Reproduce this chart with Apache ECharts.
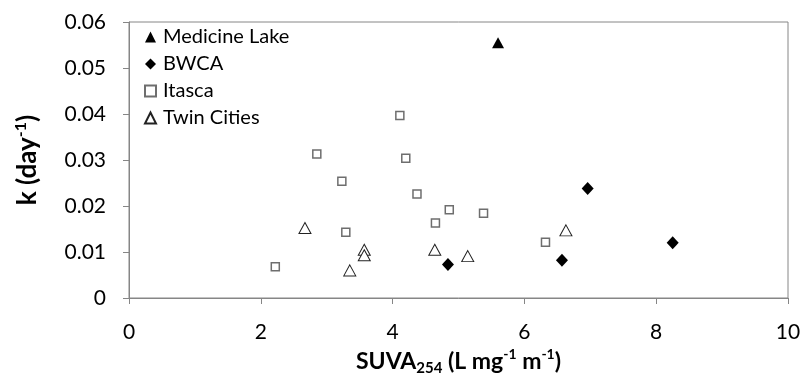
<!DOCTYPE html>
<html>
<head>
<meta charset="utf-8">
<script src="https://cdn.jsdelivr.net/npm/echarts@6/dist/echarts.min.js"></script>
<style>
  html, body { margin: 0; padding: 0; background: #fff; }
  #chart { width: 806px; height: 386px; }
</style>
</head>
<body>
<div id="chart"></div>
<script>
// SUVA254 (L mg-1 m-1) vs decay rate k (day-1), per site group
const medicineLake = [[5.60, 0.0555]];
const bwca = [[4.84, 0.0073], [6.57, 0.0082], [6.96, 0.0238], [8.25, 0.0120]];
const itasca = [
  [2.22, 0.0068], [2.85, 0.0313], [3.23, 0.0254], [3.29, 0.0143],
  [4.11, 0.0397], [4.20, 0.0304], [4.37, 0.0226], [4.65, 0.0163],
  [4.86, 0.0192], [5.38, 0.0184], [6.32, 0.0121]
];
const twinCities = [
  [2.67, 0.0152], [3.35, 0.0060], [3.57, 0.0105], [3.57, 0.0093],
  [4.64, 0.0105], [5.14, 0.0091], [6.63, 0.0147]
];
const xTicks = [0, 2, 4, 6, 8, 10];
const yTicks = [0, 0.01, 0.02, 0.03, 0.04, 0.05, 0.06];

const FONT = 'Lato';
const axisGray = '#868686';

const chart = echarts.init(document.getElementById('chart'), null, { renderer: 'canvas' });

chart.setOption({
  animation: false,
  backgroundColor: '#fff',
  textStyle: { fontFamily: FONT, color: '#000' },
  grid: {
    left: 129, right: 18, top: 22, bottom: 88,
    show: true, borderColor: axisGray, borderWidth: 1, backgroundColor: 'transparent'
  },
  legend: {
    orient: 'vertical',
    left: 139, top: 22,
    padding: 5,
    itemWidth: 11, itemHeight: 11, itemGap: 7,
    textStyle: { fontFamily: FONT, fontSize: 20, color: '#000', padding: [0, 0, 0, 2] },
    data: ['Medicine Lake', 'BWCA', 'Itasca', 'Twin Cities']
  },
  xAxis: {
    type: 'value',
    min: xTicks[0], max: xTicks[xTicks.length - 1], interval: 2,
    splitLine: { show: false },
    axisLine: { show: true, lineStyle: { color: axisGray, width: 1 } },
    axisTick: { show: true, length: 6, lineStyle: { color: axisGray } },
    axisLabel: { fontFamily: FONT, fontSize: 21, color: '#000', margin: 24 },
    name: '{b|SUVA}{bs|254}{b| (L mg}{bp|-1}{b| m}{bp|-1}{b|)}',
    nameLocation: 'middle',
    nameGap: 46,
    nameTextStyle: {
      rich: {
        b: { fontFamily: FONT, fontWeight: 'bold', fontSize: 23, color: '#000' },
        bs: { fontFamily: FONT, fontWeight: 'bold', fontSize: 15, color: '#000', padding: [13, 0, 0, 0] },
        bp: { fontFamily: FONT, fontWeight: 'bold', fontSize: 14, color: '#000', padding: [0, 0, 13, 0] }
      }
    }
  },
  yAxis: {
    type: 'value',
    min: yTicks[0], max: yTicks[yTicks.length - 1], interval: 0.01,
    splitLine: { show: false },
    axisLine: { show: true, lineStyle: { color: axisGray, width: 1 } },
    axisTick: { show: true, length: 6, lineStyle: { color: axisGray } },
    axisLabel: {
      fontFamily: FONT, fontSize: 21, color: '#000', margin: 23,
      formatter: v => (v === 0 ? '0' : v.toFixed(2))
    },
    name: '{b|k (day}{bp|-1}{b|)}',
    nameLocation: 'middle',
    nameRotate: 90,
    nameGap: 86,
    nameTextStyle: {
      rich: {
        b: { fontFamily: FONT, fontWeight: 'bold', fontSize: 26, color: '#000' },
        bp: { fontFamily: FONT, fontWeight: 'bold', fontSize: 16, color: '#000', padding: [0, 0, 14, 0] }
      }
    }
  },
  series: [
    {
      name: 'Medicine Lake', type: 'scatter', data: medicineLake,
      symbol: 'triangle', symbolSize: [12, 11],
      itemStyle: { color: '#000', borderColor: '#000', borderWidth: 0, opacity: 1 }
    },
    {
      name: 'BWCA', type: 'scatter', data: bwca,
      symbol: 'diamond', symbolSize: [12, 13],
      itemStyle: { color: '#000', borderColor: '#000', borderWidth: 0, opacity: 1 }
    },
    {
      name: 'Itasca', type: 'scatter', data: itasca,
      symbol: 'rect', symbolSize: 8,
      itemStyle: { color: '#fff', borderColor: '#6e6e6e', borderWidth: 1.5, opacity: 1 }
    },
    {
      name: 'Twin Cities', type: 'scatter', data: twinCities,
      symbol: 'triangle', symbolSize: [12, 11],
      itemStyle: { color: '#fff', borderColor: '#222', borderWidth: 1, opacity: 1 }
    }
  ]
});
</script>
</body>
</html>
